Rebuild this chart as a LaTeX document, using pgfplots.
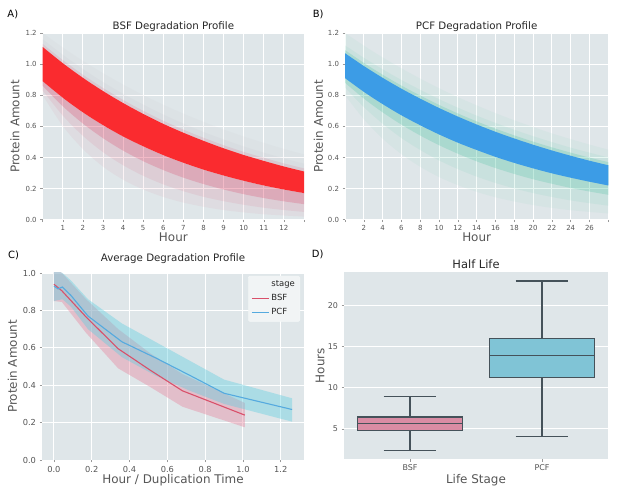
\documentclass[border=0pt]{standalone}
\usepackage{pgfplots}
\usepackage{pgfplotstable}
\pgfplotsset{compat=1.18}
\usepgfplotslibrary{fillbetween}
\usepackage{fontspec}
\setmainfont{DejaVu Sans}
\definecolor{bg}{HTML}{DFE6E9}
\definecolor{tickgray}{HTML}{555555}
\definecolor{coreRed}{HTML}{FA2B2F}
\definecolor{faintRed}{HTML}{DC3C64}
\definecolor{faintGray}{HTML}{B4A8B4}
\definecolor{coreBlue}{HTML}{3C9CE6}
\definecolor{faintTeal}{HTML}{3CBF9A}
\definecolor{lineRed}{HTML}{D9506A}
\definecolor{lineBlue}{HTML}{55AADF}
\definecolor{bandRed}{HTML}{E8839C}
\definecolor{bandBlue}{HTML}{5FCDE0}
\definecolor{boxRed}{HTML}{D98CA4}
\definecolor{boxBlue}{HTML}{80C4D6}
\definecolor{boxEdge}{HTML}{45525A}

% Panel A envelopes (hour, outer top ... outer bottom)
\pgfplotstableread{
x t1 t15 t2 up lo b2 b15 b1
0 1.200 1.160 1.130 1.110 0.890 0.860 0.830 0.800
1 1.107 1.060 1.026 1.006 0.784 0.729 0.669 0.602
2 1.021 0.969 0.932 0.912 0.690 0.618 0.539 0.454
3 0.942 0.885 0.847 0.827 0.608 0.524 0.434 0.341
4 0.869 0.809 0.770 0.750 0.535 0.444 0.350 0.257
5 0.801 0.740 0.700 0.680 0.472 0.376 0.282 0.194
6 0.739 0.676 0.636 0.616 0.415 0.319 0.227 0.146
7 0.682 0.618 0.579 0.559 0.366 0.270 0.183 0.110
8 0.629 0.564 0.527 0.507 0.322 0.229 0.147 0.083
9 0.580 0.516 0.479 0.459 0.284 0.194 0.119 0.062
10 0.535 0.471 0.436 0.416 0.250 0.164 0.096 0.047
11 0.494 0.431 0.398 0.378 0.220 0.139 0.077 0.035
12 0.455 0.394 0.362 0.342 0.194 0.118 0.062 0.027
13 0.420 0.360 0.330 0.310 0.171 0.100 0.050 0.020
}\tA

% Panel B envelopes
\pgfplotstableread{
x t1 t15 t2 up lo b2 b15 b1
0 1.200 1.120 1.090 1.070 0.910 0.880 0.850 0.800
2 1.119 1.041 1.008 0.988 0.822 0.779 0.724 0.646
4 1.043 0.967 0.932 0.912 0.743 0.690 0.617 0.521
6 0.973 0.898 0.862 0.842 0.671 0.611 0.525 0.421
8 0.907 0.835 0.798 0.778 0.607 0.541 0.448 0.340
10 0.845 0.775 0.738 0.718 0.548 0.479 0.381 0.274
12 0.788 0.720 0.683 0.663 0.495 0.424 0.325 0.222
14 0.735 0.669 0.632 0.612 0.448 0.375 0.277 0.179
16 0.685 0.622 0.585 0.565 0.404 0.332 0.236 0.144
18 0.639 0.578 0.542 0.522 0.365 0.294 0.201 0.117
20 0.596 0.537 0.502 0.482 0.330 0.260 0.171 0.094
22 0.555 0.499 0.465 0.445 0.298 0.231 0.146 0.076
24 0.518 0.463 0.431 0.411 0.270 0.204 0.124 0.061
26 0.483 0.431 0.399 0.379 0.244 0.181 0.106 0.050
28 0.450 0.400 0.370 0.350 0.220 0.160 0.090 0.040
}\tB

% Panel C: mean and band
\pgfplotstableread{
x m up lo
0.000 0.940 1.030 0.850
0.042 0.905 1.000 0.845
0.170 0.765 0.860 0.680
0.340 0.595 0.700 0.490
0.510 0.480 0.570 0.390
0.680 0.370 0.460 0.285
1.010 0.240 0.305 0.175
}\cBSF
\pgfplotstableread{
x m up lo
0.000 0.930 1.020 0.850
0.022 0.915 1.010 0.855
0.045 0.925 1.000 0.860
0.090 0.880 0.960 0.820
0.180 0.770 0.860 0.700
0.360 0.632 0.730 0.550
0.540 0.545 0.630 0.450
0.720 0.452 0.530 0.370
0.900 0.357 0.430 0.300
1.260 0.270 0.330 0.205
}\cPCF

\pgfplotsset{
  panel/.style={
    scale only axis, anchor=south west,
    axis background/.style={fill=bg},
    axis line style={draw=none},
    grid=major, major grid style={white, line width=0.9bp},
    tick align=outside, tick pos=left,
    major tick length=2.5bp,
    tick style={tickgray!60, line width=0.6bp},
    /pgf/number format/assume math mode=true,
    tick label style={text=tickgray},
    label style={text=tickgray},
    every axis title shift=0pt,
    title style={text=black!85, anchor=base, inner sep=0pt},
    enlargelimits=false,
  },
  oneDec/.style={/pgf/number format/.cd, fixed, fixed zerofill, precision=1},
  env/.style={draw=none, smooth},
  bx/.style={draw=boxEdge, line width=1.1bp, mark=none, solid, line join=miter},
}

\begin{document}
\begin{tikzpicture}

% ---------------- A ----------------
\begin{axis}[panel, at={(42.7bp,275.3bp)}, width=261.3bp, height=186.7bp,
  xmin=0, xmax=13, ymin=0, ymax=1.2,
  xtick={0,...,13}, xticklabels={,1,2,3,4,5,6,7,8,9,10,11,12,},
  ytick={0,0.2,...,1.2}, yticklabel style={oneDec},
  tick label style={font=\fontsize{7}{8}\selectfont},
  title={BSF Degradation Profile}, title style={font=\fontsize{10.3}{12}\selectfont, at={(axis description cs:0.5,1.018)}},
  xlabel={Hour}, ylabel={Protein Amount},
  label style={font=\fontsize{12}{14}\selectfont},
  xlabel style={at={(axis description cs:0.5,-0.119)}, anchor=base},
  ylabel style={at={(axis description cs:-0.106,0.5)}, anchor=center},
]
\addplot[env, name path=At1] table[x=x,y=t1]{\tA};
\addplot[env, name path=At15] table[x=x,y=t15]{\tA};
\addplot[env, name path=At2] table[x=x,y=t2]{\tA};
\addplot[env, name path=Aup] table[x=x,y=up]{\tA};
\addplot[env, name path=Alo] table[x=x,y=lo]{\tA};
\addplot[env, name path=Ab2] table[x=x,y=b2]{\tA};
\addplot[env, name path=Ab15] table[x=x,y=b15]{\tA};
\addplot[env, name path=Ab1] table[x=x,y=b1]{\tA};
\addplot[fill=faintGray, fill opacity=0.06, draw=none] fill between[of=At1 and Aup];
\addplot[fill=faintGray, fill opacity=0.08, draw=none] fill between[of=At15 and Aup];
\addplot[fill=faintRed, fill opacity=0.12, draw=none] fill between[of=At2 and Aup];
\addplot[fill=faintRed, fill opacity=0.06, draw=none] fill between[of=Alo and Ab1];
\addplot[fill=faintRed, fill opacity=0.09, draw=none] fill between[of=Alo and Ab15];
\addplot[fill=faintRed, fill opacity=0.24, draw=none] fill between[of=Alo and Ab2];
\addplot[fill=coreRed, draw=none] fill between[of=Aup and Alo];
\end{axis}

% ---------------- B ----------------
\begin{axis}[panel, at={(345bp,275.3bp)}, width=263.3bp, height=186.7bp,
  xmin=0, xmax=28, ymin=0, ymax=1.2,
  xtick={0,2,...,28}, xticklabels={,2,4,6,8,10,12,14,16,18,20,22,24,26,},
  ytick={0,0.2,...,1.2}, yticklabel style={oneDec},
  tick label style={font=\fontsize{7}{8}\selectfont},
  title={PCF Degradation Profile}, title style={font=\fontsize{10.3}{12}\selectfont, at={(axis description cs:0.5,1.018)}},
  xlabel={Hour}, ylabel={Protein Amount},
  label style={font=\fontsize{12}{14}\selectfont},
  xlabel style={at={(axis description cs:0.5,-0.119)}, anchor=base},
  ylabel style={at={(axis description cs:-0.101,0.5)}, anchor=center},
]
\addplot[env, name path=Bt1] table[x=x,y=t1]{\tB};
\addplot[env, name path=Bt15] table[x=x,y=t15]{\tB};
\addplot[env, name path=Bt2] table[x=x,y=t2]{\tB};
\addplot[env, name path=Bup] table[x=x,y=up]{\tB};
\addplot[env, name path=Blo] table[x=x,y=lo]{\tB};
\addplot[env, name path=Bb2] table[x=x,y=b2]{\tB};
\addplot[env, name path=Bb15] table[x=x,y=b15]{\tB};
\addplot[env, name path=Bb1] table[x=x,y=b1]{\tB};
\addplot[fill=faintTeal, fill opacity=0.05, draw=none] fill between[of=Bt1 and Bb1];
\addplot[fill=faintTeal, fill opacity=0.08, draw=none] fill between[of=Bt15 and Bb15];
\addplot[fill=faintTeal, fill opacity=0.22, draw=none] fill between[of=Bt2 and Bb2];
\addplot[fill=coreBlue, draw=none] fill between[of=Bup and Blo];
\end{axis}

% ---------------- C ----------------
\begin{axis}[panel, at={(42bp,35bp)}, width=262bp, height=187bp,
  xmin=-0.063, xmax=1.323, ymin=0, ymax=1.0,
  xtick={0,0.2,...,1.2}, ytick={0,0.2,...,1.0},
  xticklabel style={oneDec}, yticklabel style={oneDec},
  tick label style={font=\fontsize{8.3}{10}\selectfont},
  title={Average Degradation Profile}, title style={font=\fontsize{10.3}{12}\selectfont, at={(axis description cs:0.5,1.063)}},
  xlabel={Hour / Duplication Time}, ylabel={Protein Amount},
  label style={font=\fontsize{12}{14}\selectfont},
  xlabel style={at={(axis description cs:0.5,-0.128)}, anchor=base},
  ylabel style={at={(axis description cs:-0.113,0.5)}, anchor=center},
  legend style={at={(axis description cs:0.985,0.985)}, anchor=north east,
    fill=white!55!bg, draw=white!70!bg, font=\fontsize{8.5}{10}\selectfont,
    text=black!85, cells={anchor=west}, row sep=2.2bp, rounded corners=1.5bp,
    inner sep=3bp},
]
\addplot[draw=none, name path=Cru, forget plot] table[x=x,y=up]{\cBSF};
\addplot[draw=none, name path=Crl, forget plot] table[x=x,y=lo]{\cBSF};
\addplot[draw=none, name path=Cbu, forget plot] table[x=x,y=up]{\cPCF};
\addplot[draw=none, name path=Cbl, forget plot] table[x=x,y=lo]{\cPCF};
\addplot[fill=bandRed, fill opacity=0.4, draw=none, forget plot] fill between[of=Cru and Crl];
\addplot[fill=bandBlue, fill opacity=0.4, draw=none, forget plot] fill between[of=Cbu and Cbl];
\addlegendimage{empty legend}\addlegendentry{stage}
\addplot[lineRed, line width=1.1bp, mark=none] table[x=x,y=m]{\cBSF};
\addlegendentry{BSF}
\addplot[lineBlue, line width=1.1bp, mark=none] table[x=x,y=m]{\cPCF};
\addlegendentry{PCF}
\end{axis}

% ---------------- D ----------------
\begin{axis}[panel, at={(344bp,36bp)}, width=264bp, height=186.7bp,
  xmin=-0.5, xmax=1.5, ymin=1.35, ymax=24,
  xtick={0,1}, xticklabels={BSF,PCF}, ytick={5,10,15,20},
  xmajorgrids=false, ymajorgrids=true,
  tick label style={font=\fontsize{8}{10}\selectfont},
  title={Half Life}, title style={font=\fontsize{11.5}{13}\selectfont, at={(axis description cs:0.5,1.022)}},
  xlabel={Life Stage}, ylabel={Hours},
  label style={font=\fontsize{12}{14}\selectfont},
  xlabel style={at={(axis description cs:0.5,-0.131)}, anchor=base},
  ylabel style={at={(axis description cs:-0.091,0.5)}, anchor=center},
]
% BSF: whiskers 2.35 / 8.9, quartiles 4.8 / 6.45, median 5.7
\addplot[bx, fill=boxRed] coordinates {(-0.4,4.8) (0.4,4.8) (0.4,6.45) (-0.4,6.45) (-0.4,4.8) (0.4,4.8)};
\addplot[bx] coordinates {(-0.4,5.7) (0.4,5.7)};
\addplot[bx] coordinates {(0,4.8) (0,2.35)};
\addplot[bx] coordinates {(0,6.45) (0,8.9)};
\addplot[bx] coordinates {(-0.2,2.35) (0.2,2.35)};
\addplot[bx] coordinates {(-0.2,8.9) (0.2,8.9)};
% PCF: whiskers 4.1 / 22.95, quartiles 11.25 / 15.95, median 13.9
\addplot[bx, fill=boxBlue] coordinates {(0.6,11.25) (1.4,11.25) (1.4,15.95) (0.6,15.95) (0.6,11.25) (1.4,11.25)};
\addplot[bx] coordinates {(0.6,13.9) (1.4,13.9)};
\addplot[bx] coordinates {(1,11.25) (1,4.1)};
\addplot[bx] coordinates {(1,15.95) (1,22.95)};
\addplot[bx] coordinates {(0.8,4.1) (1.2,4.1)};
\addplot[bx] coordinates {(0.8,22.95) (1.2,22.95)};
\end{axis}

% panel letters
\node[anchor=base west, inner sep=0pt, font=\fontsize{10}{12}\selectfont] at (7.3bp,477.7bp) {A)};
\node[anchor=base west, inner sep=0pt, font=\fontsize{10}{12}\selectfont] at (312.7bp,477.7bp) {B)};
\node[anchor=base west, inner sep=0pt, font=\fontsize{10}{12}\selectfont] at (8bp,236.5bp) {C)};
\node[anchor=base west, inner sep=0pt, font=\fontsize{10}{12}\selectfont] at (311.7bp,237bp) {D)};

\pgfresetboundingbox
\path[use as bounding box] (0,0) rectangle (617bp,495bp);
\end{tikzpicture}
\end{document}
